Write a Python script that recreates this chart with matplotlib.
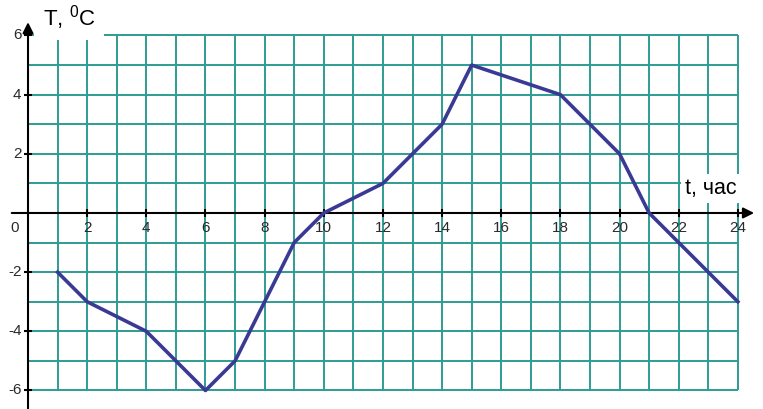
import matplotlib.pyplot as plt
import numpy as np

plt.rcParams['font.family'] = ['Liberation Sans', 'DejaVu Sans']
plt.rcParams['mathtext.fontset'] = 'custom'
plt.rcParams['mathtext.rm'] = 'Liberation Sans'

# temperature over the day
hours = [1, 2, 4, 6, 7, 9, 10, 12, 14, 15, 18, 20, 21, 24]
temps = [-2, -3, -4, -6, -5, -1, 0, 1, 3, 5, 4, 2, 0, -3]

x_ticks = [2, 4, 6, 8, 10, 12, 14, 16, 18, 20, 22, 24]
y_ticks = [-6, -4, -2, 2, 4, 6]

grid_color = '#2e9c94'
line_color = '#3a3a95'

fig = plt.figure(figsize=(7.63, 4.09), dpi=100)
ax = fig.add_axes([0, 0, 1, 1])
ax.set_xlim(-0.947, 24.85)
ax.set_ylim(-6.626, 7.20)
ax.axis('off')

# the squared paper
ax.vlines(np.arange(1, 25), -6, 6, color=grid_color, linewidth=1.4, zorder=1)
ax.hlines(np.arange(-6, 7), 0, 24, color=grid_color, linewidth=1.4, zorder=1)

# axes with arrows
ax.annotate('', xy=(24.55, 0), xytext=(-0.55, 0),
            arrowprops=dict(arrowstyle='-|>', color='black', lw=1.5,
                            mutation_scale=16, shrinkA=0, shrinkB=0), zorder=4)
ax.annotate('', xy=(0, 6.45), xytext=(0, -6.65),
            arrowprops=dict(arrowstyle='-|>', color='black', lw=1.5,
                            mutation_scale=16, shrinkA=0, shrinkB=0), zorder=4)

# tick marks
ax.plot(x_ticks, [0] * len(x_ticks), linestyle='none', marker='|',
        markersize=6, markeredgewidth=1.5, color='black', zorder=5)
ax.plot([0] * len(y_ticks), y_ticks, linestyle='none', marker='_',
        markersize=6, markeredgewidth=1.5, color='black', zorder=5)

for t in x_ticks:
    ax.text(t, -0.28, str(t), ha='center', va='top', fontsize=11, color='#2a2a2a')
for v in y_ticks:
    ax.text(-0.22, v, str(v), ha='right', va='center', fontsize=11, color='#2a2a2a')
ax.text(-0.3, -0.28, '0', ha='right', va='top', fontsize=11, color='#2a2a2a')

# axis names on white patches
ax.text(0.5, 6.62, r'T, $^{0}$C', ha='left', va='center', fontsize=16,
        zorder=3, bbox=dict(facecolor='white', edgecolor='none', pad=6))
ax.text(23.1, 0.82, 't, час', ha='center', va='center', fontsize=15.5,
        zorder=3, bbox=dict(facecolor='white', edgecolor='none', pad=3))

ax.plot(hours, temps, color=line_color, linewidth=2.6, zorder=6,
        solid_joinstyle='round')

fig.savefig('out.png', dpi=100)
